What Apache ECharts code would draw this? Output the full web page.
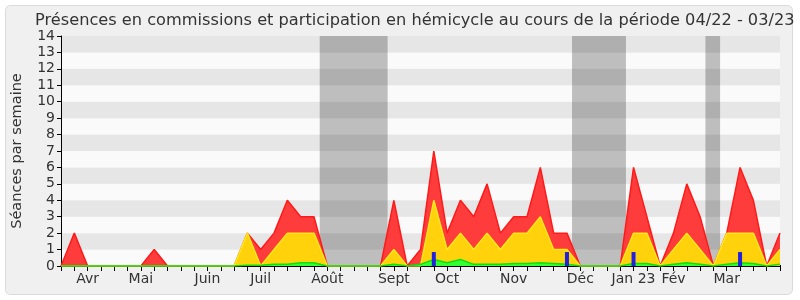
<!DOCTYPE html>
<html>
<head>
<meta charset="utf-8">
<script src="https://cdn.jsdelivr.net/npm/echarts@6/dist/echarts.min.js"></script>
<style>html,body{margin:0;padding:0;background:#fff}#c{width:800px;height:300px}</style>
</head>
<body>
<div id="c"></div>
<script>
// Weekly index 0..54 (04/22 - 03/23)
var monthLabels = {2:'Avr',6:'Mai',11:'Juin',15:'Juil',20:'Août',25:'Sept',29:'Oct',34:'Nov',39:'Déc',43:'Jan 23',46:'Fév',50:'Mar'};
var totalPresence = [0,2,0,0,0,0,0,1,0,0,0,0,0,0,2,1,2,4,3,3,0,0,0,0,0,4,0,1,7,2,4,3,5,2,3,3,6,2,2,0,0,0,0,6,3,0,2,5,3,0,2,6,4,0,2];
var commission    = [0,0,0,0,0,0,0,0,0,0,0,0,0,0,2,0,1,2,2,2,0,0,0,0,0,1,0,0,4,1,2,1,2,1,2,2,3,1,1,0,0,0,0,2,2,0,1,2,1,0,2,2,2,0,1];
var hemicycle     = [0,0,0,0,0,0,0,0,0,0,0,0,0,0,0.05,0.05,0.1,0.1,0.2,0.2,0,0,0,0,0,0.1,0,0.1,0.4,0.2,0.4,0.1,0.1,0.1,0.15,0.15,0.2,0.15,0.1,0,0,0,0,0.15,0.15,0,0.1,0.2,0.1,0,0.1,0.2,0.15,0,0.1];
var questionWeeks = [28,38,43,51];
var questionVals  = [0.85,0.85,0.85,0.85];
var vacations = [[19.43,24.53],[38.38,42.43],[48.4,49.5]];

function pairs(arr){ return arr.map(function(v,i){return [i,v];}); }

var chart = echarts.init(document.getElementById('c'), null, {renderer:'canvas'});
var font = 'DejaVu Sans';
chart.setOption({
  backgroundColor:'#ffffff',
  animation:false,
  textStyle:{fontFamily:font},
  title:{text:'Présences en commissions et participation en hémicycle au cours de la période 04/22 - 03/23',
    left:30, top:8, textStyle:{fontFamily:font,fontSize:16.2,fontWeight:'normal',color:'#333'}},
  graphic:[{type:'rect', z:-10, silent:true, shape:{x:5.5,y:5.5,width:787,height:289,r:5},
    style:{fill:'#f0f0f0',stroke:'#dadada',lineWidth:1}}],
  grid:{left:61,right:20,top:36,bottom:34},
  xAxis:[{type:'value',min:0,max:54,interval:1,position:'bottom',
    axisLine:{show:true,onZero:false,lineStyle:{color:'#000',width:1}},
    axisTick:{show:true,length:5,lineStyle:{color:'#000'}},
    splitLine:{show:false},
    axisLabel:{show:true,interval:0,fontSize:14,color:'#333',margin:6,fontFamily:font,
      showMinLabel:true,showMaxLabel:true,
      formatter:function(v){return monthLabels[Math.round(v)]||'';}}},
   {type:'value',min:0,max:54,interval:1,position:'top',
    axisLine:{show:false},axisTick:{show:true,length:1,lineStyle:{color:'#000'}},
    axisLabel:{show:false},splitLine:{show:false}}],
  yAxis:{type:'value',min:0,max:14,interval:1,
    name:'Séances par semaine',nameLocation:'middle',nameGap:36,
    nameTextStyle:{fontSize:14.5,color:'#333',fontFamily:font},
    axisLine:{show:true,lineStyle:{color:'#000'}},
    axisTick:{show:true,length:4,lineStyle:{color:'#000'}},
    axisLabel:{fontSize:14,color:'#333',margin:6,fontFamily:font},
    splitLine:{show:false},
    splitArea:{show:true,areaStyle:{color:['#fafafa','#e6e6e6']}}},
  series:[
    {type:'line',z:1,data:[],silent:true,
      markArea:{silent:true,itemStyle:{color:'rgba(0,0,0,0.24)'},
        data:vacations.map(function(v){return [{xAxis:v[0]},{xAxis:v[1]}];})}},
    {type:'line',z:2,data:pairs(totalPresence),symbol:'none',
      lineStyle:{color:'#ff1a1a',width:1.5},areaStyle:{color:'#ff3c3c',opacity:1}},
    {type:'line',z:3,data:pairs(commission),symbol:'none',
      lineStyle:{color:'#ffe81a',width:1.5},areaStyle:{color:'#ffd20c',opacity:1}},
    {type:'line',z:4,data:pairs(hemicycle),symbol:'none',
      lineStyle:{color:'#11dd11',width:1.5},areaStyle:{color:'#33ff33',opacity:1}},
    {type:'bar',z:5,data:questionWeeks.map(function(w,i){return [w,questionVals[i]];}),
      barWidth:4,itemStyle:{color:'#2222dd'}}
  ]
});
</script>
</body>
</html>
